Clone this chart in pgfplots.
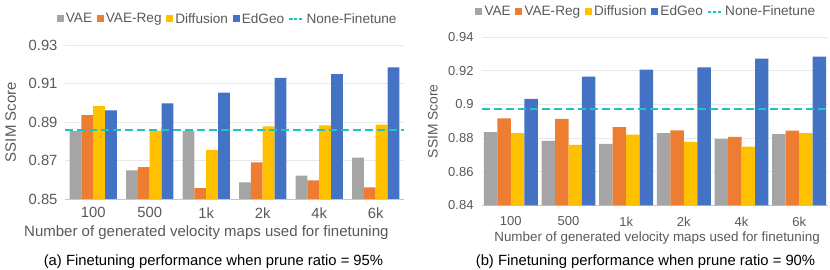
\documentclass[border=0pt]{standalone}
\usepackage{pgfplots}
\pgfplotsset{compat=1.18}
\usepackage{fontspec}
\setmainfont{Liberation Sans}
\definecolor{cVAE}{HTML}{A5A5A5}
\definecolor{cReg}{HTML}{ED7D31}
\definecolor{cDif}{HTML}{FFC000}
\definecolor{cEdg}{HTML}{4472C4}
\definecolor{cNone}{HTML}{1CC4C4}
\definecolor{ctxt}{HTML}{595959}
\pgfplotsset{
  barsq/.style={legend image code/.code={\fill[##1] (0bp,-3.5bp) rectangle (7bp,3.5bp);}},
  myaxis/.style={
    scale only axis, xmin=-0.5, xmax=5.5,
    xtick={0,...,5}, xticklabels={100,500,1k,2k,4k,6k},
    major tick length=0pt,
    axis x line*=bottom, axis y line*=left,
    y axis line style={draw=none},
    x axis line style={draw=black!22,-},
    ymajorgrids, grid style={draw=black!9, line width=0.8bp},
    /pgf/number format/assume math mode=true,
    tick label style={text=ctxt},
    label style={text=ctxt},
    legend columns=5,
    legend style={draw=none, fill=none, font=\fontsize{13.6bp}{15bp}\selectfont, text=ctxt,
      nodes={inner xsep=2.3bp, inner ysep=1bp},
      /tikz/every even column/.append style={column sep=2.2bp}, inner sep=0pt},
    legend cell align=left,
  },
  vb/.style={ybar, bar width=#1, draw=none},
}
\begin{document}
\begin{tikzpicture}
\useasboundingbox (0,0) rectangle (830bp,270bp);
% ---------------- left
\begin{axis}[myaxis, at={(65bp,71bp)}, anchor=south west,
  width=339bp, height=154bp, ymin=0.85, ymax=0.93,
  ytick={0.85,0.87,0.89,0.91,0.93},
  tick label style={font=\fontsize{14.8bp}{16bp}\selectfont},
  xticklabel style={yshift=-5bp},
  yticklabel style={xshift=-4bp},
  xlabel={Number of generated velocity maps used for finetuning},
  xlabel style={font=\fontsize{15bp}{16bp}\selectfont, at={(axis description cs:0.417,-0.218)}, anchor=center},
  ylabel={SSIM Score},
  ylabel style={font=\fontsize{15bp}{16bp}\selectfont, at={(axis description cs:-0.16,0.5)}, anchor=center, rotate=0},
  legend style={at={(0.48,1.169)}, anchor=center},
]
\addplot[vb=0.21, bar shift=-0.315, fill=cVAE, barsq] coordinates {(0,0.8853) (1,0.8649) (2,0.8853) (3,0.8587) (4,0.8621) (5,0.8715)};
\addplot[vb=0.21, bar shift=-0.105, fill=cReg, barsq] coordinates {(0,0.8936) (1,0.8666) (2,0.8557) (3,0.8690) (4,0.8597) (5,0.8561)};
\addplot[vb=0.21, bar shift=0.105, fill=cDif, barsq] coordinates {(0,0.8983) (1,0.8855) (2,0.8755) (3,0.8877) (4,0.8883) (5,0.8886)};
\addplot[vb=0.21, bar shift=0.315, fill=cEdg, barsq] coordinates {(0,0.8961) (1,0.8997) (2,0.9052) (3,0.9129) (4,0.9149) (5,0.9184)};
\addplot[cNone, line width=2bp, dash pattern=on 8bp off 4bp, sharp plot,
  legend image code/.code={\draw[cNone, line width=1.6bp, dash pattern=on 3.2bp off 1.6bp] (0bp,0bp) -- (14bp,0bp);}]
  coordinates {(-0.5,0.8857) (5.5,0.8857)};
\legend{VAE, VAE-Reg, Diffusion, EdGeo, None-Finetune}
\end{axis}
% ---------------- right
\begin{axis}[myaxis, at={(482bp,64.7bp)}, anchor=south west,
  width=346bp, height=168bp, ymin=0.84, ymax=0.94,
  ytick={0.84,0.86,0.88,0.9,0.92,0.94},
  tick label style={font=\fontsize{13bp}{15bp}\selectfont},
  xticklabel style={yshift=-8bp},
  yticklabel style={xshift=-5bp},
  xlabel={Number of generated velocity maps used for finetuning},
  xlabel style={font=\fontsize{13.4bp}{14bp}\selectfont, at={(axis description cs:0.506,-0.193)}, anchor=center},
  ylabel={SSIM Score},
  ylabel style={font=\fontsize{13.8bp}{15bp}\selectfont, at={(axis description cs:-0.142,0.5)}, anchor=center, rotate=0},
  legend style={at={(0.475,1.152)}, anchor=center},
]
\addplot[vb=0.234, bar shift=-0.351, fill=cVAE, barsq] coordinates {(0,0.8835) (1,0.8783) (2,0.8765) (3,0.8829) (4,0.8796) (5,0.8824)};
\addplot[vb=0.234, bar shift=-0.117, fill=cReg, barsq] coordinates {(0,0.8918) (1,0.8914) (2,0.8866) (3,0.8846) (4,0.8807) (5,0.8844)};
\addplot[vb=0.234, bar shift=0.117, fill=cDif, barsq] coordinates {(0,0.8830) (1,0.8759) (2,0.8820) (3,0.8777) (4,0.8749) (5,0.8829)};
\addplot[vb=0.234, bar shift=0.351, fill=cEdg, barsq] coordinates {(0,0.9033) (1,0.9166) (2,0.9207) (3,0.9221) (4,0.9273) (5,0.9285)};
\addplot[cNone, line width=2bp, dash pattern=on 8bp off 4bp, sharp plot,
  legend image code/.code={\draw[cNone, line width=1.6bp, dash pattern=on 3.2bp off 1.6bp] (0bp,0bp) -- (14bp,0bp);}]
  coordinates {(-0.5,0.8975) (5.5,0.8975)};
\legend{VAE, VAE-Reg, Diffusion, EdGeo, None-Finetune}
\end{axis}
\node[anchor=center, font=\fontsize{14.8bp}{16bp}\selectfont] at (213.5bp,8.3bp) {(a) Finetuning performance when prune ratio = 95\%};
\node[anchor=center, font=\fontsize{14.8bp}{16bp}\selectfont] at (645.5bp,8.3bp) {(b) Finetuning performance when prune ratio = 90\%};
\end{tikzpicture}
\end{document}
